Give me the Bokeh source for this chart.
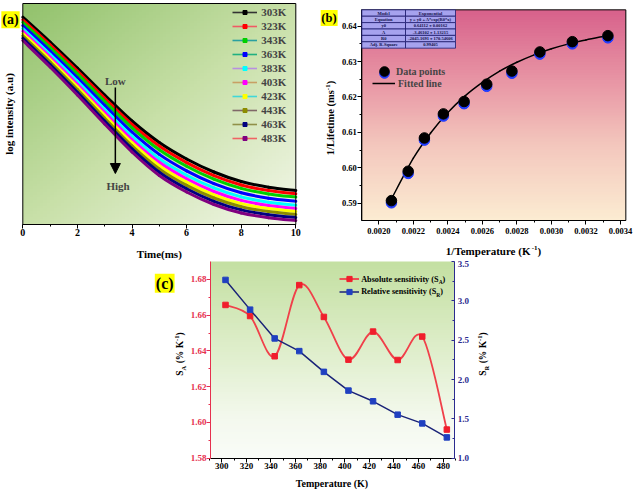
import numpy as np
from bokeh.plotting import figure
from bokeh.models import (Range1d, LinearAxis, Label, BoxAnnotation, Legend, LegendItem,
                          ColumnDataSource, FixedTicker, PrintfTickFormatter, Spacer, Arrow, NormalHead)
from bokeh.layouts import row, column
from bokeh.embed import file_html
from bokeh.resources import INLINE
from bokeh.transform import dodge

FONT = "Liberation Serif"

# ---------------- data: panel (a) ----------------
time_ms = [0, 1, 2, 3, 4, 5, 6, 7, 8, 9, 10]
temp_labels_a = ["303K", "323K", "343K", "363K", "383K", "403K", "423K", "443K", "463K", "483K"]
log_int_303K = [2.073, 1.825, 1.565, 1.295, 1.035, 0.820, 0.655, 0.525, 0.430, 0.373, 0.340]
log_int_323K = [2.047, 1.797, 1.535, 1.263, 1.001, 0.784, 0.619, 0.489, 0.395, 0.339, 0.307]
log_int_343K = [2.022, 1.770, 1.506, 1.231, 0.967, 0.747, 0.582, 0.453, 0.361, 0.306, 0.274]
log_int_363K = [1.989, 1.735, 1.468, 1.191, 0.923, 0.701, 0.536, 0.408, 0.317, 0.263, 0.232]
log_int_383K = [1.959, 1.702, 1.433, 1.153, 0.883, 0.658, 0.493, 0.366, 0.276, 0.223, 0.193]
log_int_403K = [1.933, 1.675, 1.403, 1.121, 0.849, 0.622, 0.457, 0.330, 0.241, 0.190, 0.160]
log_int_423K = [1.910, 1.650, 1.376, 1.092, 0.818, 0.589, 0.424, 0.297, 0.209, 0.159, 0.130]
log_int_443K = [1.887, 1.625, 1.349, 1.063, 0.787, 0.556, 0.391, 0.265, 0.178, 0.129, 0.100]
log_int_463K = [1.863, 1.600, 1.322, 1.034, 0.756, 0.523, 0.358, 0.232, 0.146, 0.098, 0.070]
log_int_483K = [1.840, 1.575, 1.295, 1.005, 0.725, 0.490, 0.325, 0.200, 0.115, 0.068, 0.040]
log_int_series = [log_int_303K, log_int_323K, log_int_343K, log_int_363K, log_int_383K,
                  log_int_403K, log_int_423K, log_int_443K, log_int_463K, log_int_483K]
curve_colors = ["#000000", "#ff0000", "#00d000", "#0000ff", "#00ffff",
                "#ff00ff", "#ffff00", "#8c8c00", "#000080", "#800080"]
legend_line_colors = ["#333333", "#f05a64", "#2aa0a0", "#20b080", "#b890e0",
                      "#c8a064", "#40d8d8", "#806868", "#909048", "#f06464"]

# ---------------- data: panel (b) ----------------
inv_temp = [0.002073, 0.002170, 0.002264, 0.002374, 0.002494, 0.002625, 0.002771, 0.002933, 0.003121, 0.003327]
inv_lifetime = [0.5906, 0.5989, 0.6083, 0.6151, 0.6186, 0.6235, 0.6272, 0.6326, 0.6355, 0.6372]
fit_inv_temp = [0.00207, 0.0022, 0.0023, 0.0024, 0.0025, 0.0026, 0.0027, 0.0028, 0.0029, 0.0030, 0.0031, 0.0032, 0.0033]
fit_inv_lifetime = [0.5909, 0.6027, 0.6098, 0.6156, 0.6203, 0.6241, 0.6273, 0.6298, 0.6319, 0.6336, 0.6350, 0.6361, 0.6371]
fit_table_rows = [("Model", "Exponential"),
                  ("Equation", "y = y0 + A*exp(R0*x)"),
                  ("y0", "0.64112 \u00b1 0.00162"),
                  ("A", "-3.46102 \u00b1 1.13215"),
                  ("R0", "-2045.1691 \u00b1 170.54606"),
                  ("Adj. R-Square", "0.99405")]

# ---------------- data: panel (c) ----------------
temperature_K = [303, 323, 343, 363, 383, 403, 423, 443, 463, 483]
abs_sens = [1.6657, 1.6595, 1.6370, 1.6768, 1.6590, 1.6351, 1.6508, 1.6349, 1.6480, 1.5960]
rel_sens = [3.266, 2.888, 2.522, 2.361, 2.097, 1.859, 1.723, 1.553, 1.442, 1.264]

# ---------------- helpers ----------------
W = {' ': 250, '(': 333, ')': 333, '%': 1000, '-': 333, '/': 278, '.': 250,
     'A': 722, 'K': 778, 'L': 667, 'R': 722, 'S': 556, 'T': 667,
     'a': 500, 'b': 556, 'c': 444, 'd': 556, 'e': 444, 'f': 333, 'g': 500, 'h': 556,
     'i': 278, 'l': 278, 'm': 833, 'n': 556, 'o': 500, 'p': 556, 'r': 444, 's': 389,
     't': 333, 'u': 556, 'v': 500, 'w': 722, 'y': 500}
META = {}


def text_w(s, size):
    return sum(W.get(ch, 500) for ch in s) * size / 1000.0


def scr(p, px, py):
    ox, oy, ch = META[id(p)]
    return px - ox, ch - (py - oy)


def rich(p, pieces, px, py, angle=0.0, anchor="center", color="black"):
    """px, py: page position of the text's visual middle (center or left start)."""
    sx, sy = scr(p, px, py)
    s_main = pieces[0][1]
    total = sum(text_w(t, s) for t, s, _ in pieces)
    pos = -total / 2 if anchor == "center" else 0.0
    for t, s, sh in pieces:
        lead = len(t) - len(t.lstrip(" "))
        pos += text_w(" " * lead, s)
        t2 = t.lstrip(" ")
        d = sh - 0.3375 * (s_main - s)
        if angle == 0:
            lx, ly = sx + pos, sy + d
        else:
            lx, ly = sx - d, sy + pos
        p.add_layout(Label(x=lx, y=ly, x_units="screen", y_units="screen", text=t2, angle=angle,
                           text_font=FONT, text_font_style="bold", text_font_size=f"{s}px",
                           text_align="left", text_baseline="middle", text_color=color))
        pos += text_w(t2, s)


def badge(p, text, px, py, size):
    sx, sy = scr(p, px, py)
    p.add_layout(Label(x=sx, y=sy, x_units="screen", y_units="screen", text=text,
                       text_font=FONT, text_font_style="bold", text_font_size=f"{size}px",
                       text_align="center", text_baseline="middle", text_color="black",
                       background_fill_color="#ffff00", background_fill_alpha=1.0, padding=1))


def gradient_image(stops, diag=False, n=80):
    v = np.linspace(0, 1, n)[:, None]
    u = np.linspace(0, 1, n)[None, :]
    t = (u + (1 - v)) / 2 if diag else (1 - v) + 0 * u
    ts = [s[0] for s in stops]
    img = np.empty((n, n), dtype=np.uint32)
    view = img.view(dtype=np.uint8).reshape((n, n, 4))
    for ch in range(3):
        view[:, :, ch] = np.interp(t, ts, [s[1][ch] for s in stops]).astype(np.uint8)
    view[:, :, 3] = 255
    return img


def smooth(p, xs, ys, **kw):
    x = np.asarray(xs, float)
    y = np.asarray(ys, float)
    n = len(x)
    xp = np.r_[x[0], x, x[-1]]
    yp = np.r_[y[0], y, y[-1]]
    src = ColumnDataSource(dict(
        x0=x[:-1], y0=y[:-1], x1=x[1:], y1=y[1:],
        cx0=xp[1:n] + (xp[2:n + 1] - xp[0:n - 1]) / 6, cy0=yp[1:n] + (yp[2:n + 1] - yp[0:n - 1]) / 6,
        cx1=xp[2:n + 1] - (xp[3:n + 2] - xp[1:n]) / 6, cy1=yp[2:n + 1] - (yp[3:n + 2] - yp[1:n]) / 6))
    return p.bezier(x0="x0", y0="y0", x1="x1", y1="y1", cx0="cx0", cy0="cy0", cx1="cx1", cy1="cy1",
                    source=src, line_cap="round", **kw)


def style_axis(ax, size, color="black", tick_in=0, tick_out=4, standoff=1):
    ax.major_label_text_font = FONT
    ax.major_label_text_font_style = "bold"
    ax.major_label_text_font_size = size
    ax.major_label_text_color = color
    ax.axis_line_color = color
    ax.major_tick_line_color = color
    ax.minor_tick_line_color = color
    ax.major_tick_in = tick_in
    ax.major_tick_out = tick_out
    ax.minor_tick_in = 0 if tick_in == 0 else 2
    ax.minor_tick_out = 0 if tick_out == 0 else 2
    ax.major_label_standoff = standoff


def ext_range(d0, d1, lo_px, hi_px, span_px):
    s = (d1 - d0) / span_px
    return Range1d(d0 - lo_px * s, d1 + hi_px * s)


def make_fig(origin, cw, ch, box, xd, yd):
    L, T, R, B = box
    xr = ext_range(xd[0], xd[1], L, cw - R, R - L)
    yr = ext_range(yd[0], yd[1], ch - B, T, B - T)
    p = figure(width=cw, height=ch, x_range=xr, y_range=yr, output_backend="svg", toolbar_location=None,
               min_border_left=0, min_border_right=0, min_border_top=0, min_border_bottom=0)
    p.xgrid.visible = False
    p.ygrid.visible = False
    p.outline_line_color = None
    p.background_fill_color = "white"
    p.border_fill_color = "white"
    META[id(p)] = (origin[0], origin[1], ch)
    p.xaxis[0].fixed_location = yd[0]
    p.xaxis[0].bounds = xd
    p.yaxis[0].fixed_location = xd[0]
    p.yaxis[0].bounds = yd
    return p


def background(p, stops, xd, yd, diag=False):
    p.image_rgba(image=[gradient_image(stops, diag)], x=xd[0], y=yd[0], dw=xd[1] - xd[0], dh=yd[1] - yd[0])


def frame_box(p, xd, yd):
    p.add_layout(BoxAnnotation(left=xd[0], right=xd[1], bottom=yd[0], top=yd[1], fill_alpha=0,
                               fill_color=None, line_color="black", line_alpha=1.0, line_width=1))


NAN2 = [np.nan, np.nan]
leg_common = dict(orientation="vertical", padding=0, margin=0, border_line_color=None, background_fill_alpha=0,
                  label_text_font=FONT, label_text_font_style="bold")

# ---------------- panel (a) ----------------
XA, YA = (0, 10), (0, 2.21)
pa = make_fig((0, 0), 320, 260, (22.3, 3, 295.3, 224), XA, YA)
background(pa, [(0, (146, 194, 108)), (0.5, (200, 224, 168)), (1, (243, 247, 233))], XA, YA, diag=True)
for ser, col in zip(log_int_series, curve_colors):
    smooth(pa, time_ms, ser, line_color=col, line_width=3)
frame_box(pa, XA, YA)
style_axis(pa.xaxis[0], "10px", standoff=0)
pa.xaxis[0].ticker = FixedTicker(ticks=[0, 2, 4, 6, 8, 10], minor_ticks=[1, 3, 5, 7, 9])
pa.yaxis[0].visible = False

items_a = []
for lab, lc, mc in zip(temp_labels_a, legend_line_colors, curve_colors):
    r1 = pa.line(x=NAN2, y=NAN2, line_color=lc, line_width=1.6)
    r2 = pa.scatter(x=NAN2, y=NAN2, marker="square", fill_color=mc, line_color=mc)
    items_a.append(LegendItem(label=lab, renderers=[r1, r2]))
lx, ly = scr(pa, 232.3, 144)
pa.add_layout(Legend(items=items_a, location=(lx, ly), glyph_width=25, glyph_height=10, label_height=12,
                     label_standoff=4, spacing=2, label_text_font_size="11px", **leg_common))

pa.add_layout(Arrow(end=NormalHead(size=10, fill_color="black", line_color="black"),
                    x_start=3.39, y_start=1.37, x_end=3.39, y_end=0.51, line_width=1.5, line_color="black"))
for txt, xx, yy in [("Low", 3.39, 1.44), ("High", 3.49, 0.39)]:
    pa.add_layout(Label(x=xx, y=yy, text=txt, text_font=FONT, text_font_style="bold", text_font_size="11px",
                        text_align="center", text_baseline="middle"))
rich(pa, [("Time(ms)", 11, 0)], 158.9, 253.3)
rich(pa, [("log intensity (a.u)", 11, 0)], 8.3, 113.5, angle=np.pi / 2)
badge(pa, "(a)", 10, 19.2, 14)

# ---------------- panel (b) ----------------
XB, YB = (0.0019015, 0.0034309), (0.585104, 0.644616)
pb = make_fig((320, 0), 320, 260, (41.33, 9.33, 305.33, 220), XB, YB)
background(pb, [(0, (216, 98, 140)), (0.35, (233, 152, 166)), (0.65, (244, 200, 190)), (1, (252, 236, 210))],
           XB, YB)
frame_box(pb, XB, YB)
style_axis(pb.xaxis[0], "8.5px", standoff=3)
pb.xaxis[0].ticker = FixedTicker(ticks=[0.0020, 0.0022, 0.0024, 0.0026, 0.0028, 0.0030, 0.0032, 0.0034],
                                 minor_ticks=[0.0021, 0.0023, 0.0025, 0.0027, 0.0029, 0.0031, 0.0033])
pb.xaxis[0].formatter = PrintfTickFormatter(format="%.4f")
style_axis(pb.yaxis[0], "8.5px", standoff=1)
pb.yaxis[0].ticker = FixedTicker(ticks=[0.59, 0.60, 0.61, 0.62, 0.63, 0.64],
                                 minor_ticks=[0.595, 0.605, 0.615, 0.625, 0.635])
pb.yaxis[0].formatter = PrintfTickFormatter(format="%.2f")

smooth(pb, fit_inv_temp, fit_inv_lifetime, line_color="black", line_width=1.5)
src_b = ColumnDataSource(dict(x=inv_temp, y=inv_lifetime))
pb.scatter(x="x", y=dodge("y", -0.0005, range=pb.y_range), source=src_b, marker="circle", size=10.5,
           fill_color="#1f3cff", line_color="#1f3cff")
pb.scatter(x="x", y=dodge("y", 0.00012, range=pb.y_range), source=src_b, marker="circle", size=10.5,
           fill_color="black", line_color="black")

rb_blue = pb.scatter(x=NAN2, y=NAN2, marker="circle", fill_color="#1f3cff", line_color="#1f3cff")
rb_black = pb.scatter(x=NAN2, y=NAN2, marker="circle", fill_color="black", line_color="black")
rb_line = pb.line(x=NAN2, y=NAN2, line_color="black", line_width=1.5)
for rend, lab, (px, py), gw, gh, so in [(rb_blue, " ", (372, 85), 24, 24, 0),
                                        (rb_black, "Data points", (372, 83), 24, 24, 0),
                                        (rb_line, "Fitted line", (372, 89.3), 23, 12, 3)]:
    lx, ly = scr(pb, px, py)
    pb.add_layout(Legend(items=[LegendItem(label=lab, renderers=[rend])], location=(lx, ly),
                         glyph_width=gw, glyph_height=gh, label_height=gh, label_standoff=so,
                         label_text_font_size="10px", **leg_common))

# fit-result table
col_edges = [361.33, 405.0, 455.0]
row_top, row_h = 9.33, 6.39
for r, cells in enumerate(fit_table_rows):
    for c, txt in enumerate(cells):
        l, t = scr(pb, col_edges[c], row_top + r * row_h)
        rr, b = scr(pb, col_edges[c + 1], row_top + (r + 1) * row_h)
        pb.add_layout(BoxAnnotation(left=l, right=rr, top=t, bottom=b, left_units="screen",
                                    right_units="screen", top_units="screen", bottom_units="screen",
                                    fill_color="#a6a2ee", fill_alpha=1.0, line_color="#1c1c6e",
                                    line_alpha=1.0, line_width=0.8))
        pb.add_layout(Label(x=(l + rr) / 2, y=(t + b) / 2, x_units="screen", y_units="screen", text=txt,
                            text_font=FONT, text_font_style="bold", text_font_size="4.5px",
                            text_align="center", text_baseline="middle", text_color="#10104a"))

rich(pb, [("1/Temperature (K", 11, 0), ("-1", 7, 4), (")", 11, 0)], 493, 250)
rich(pb, [("1/Lifetime (ms", 10.5, 0), ("-1", 7, 4), (")", 10.5, 0)], 330, 117.5, angle=np.pi / 2)
badge(pb, "(b)", 328.5, 17.5, 12.5)

# ---------------- panel (c) ----------------
RED_T = "#e6304e"
NAVY_T = "#2b2b8f"
XC, YC, YR = (290.8, 489.5), (1.58, 1.69), (1.0, 3.5)
BOXC = (60, 1, 304.33, 197.67)
pc = make_fig((150, 260), 345, 231, BOXC, XC, YC)
pc.extra_y_ranges = {"sr": ext_range(YR[0], YR[1], 231 - BOXC[3], BOXC[1], BOXC[3] - BOXC[1])}
background(pc, [(0, (196, 224, 162)), (0.5, (226, 240, 208)), (0.8, (244, 249, 238)), (1, (250, 252, 248))],
           XC, YC)
style_axis(pc.xaxis[0], "9px", standoff=1)
pc.xaxis[0].ticker = FixedTicker(ticks=list(range(300, 481, 20)), minor_ticks=list(range(290, 491, 20)))
style_axis(pc.yaxis[0], "9px", color=RED_T, standoff=0)
pc.yaxis[0].ticker = FixedTicker(ticks=[1.58, 1.60, 1.62, 1.64, 1.66, 1.68],
                                 minor_ticks=[1.59, 1.61, 1.63, 1.65, 1.67])
pc.yaxis[0].formatter = PrintfTickFormatter(format="%.2f")
ax_r = LinearAxis(y_range_name="sr", fixed_location=XC[1], bounds=YR)
style_axis(ax_r, "9px", color=NAVY_T, tick_in=3, tick_out=0, standoff=3)
ax_r.ticker = FixedTicker(ticks=[1.0, 1.5, 2.0, 2.5, 3.0, 3.5], minor_ticks=[1.25, 1.75, 2.25, 2.75, 3.25])
ax_r.formatter = PrintfTickFormatter(format="%.1f")
pc.add_layout(ax_r, "right")

smooth(pc, temperature_K, abs_sens, line_color="#f0404a", line_width=1.8)
pc.scatter(temperature_K, abs_sens, marker="square", size=5.5, fill_color="#f01e2c", line_color="#f01e2c")
pc.line(temperature_K, rel_sens, y_range_name="sr", line_color="#1a2378", line_width=1.5)
pc.scatter(temperature_K, rel_sens, y_range_name="sr", marker="square", size=5.5,
           fill_color="#2040c0", line_color="#2040c0")

rc1 = pc.line(x=NAN2, y=NAN2, line_color="#f0404a", line_width=1.8)
rc2 = pc.scatter(x=NAN2, y=NAN2, marker="square", fill_color="#f01e2c", line_color="#f01e2c")
rc3 = pc.line(x=NAN2, y=NAN2, line_color="#1a2378", line_width=1.5)
rc4 = pc.scatter(x=NAN2, y=NAN2, marker="square", fill_color="#2040c0", line_color="#2040c0")
for rends, (px, py) in [([rc1, rc2], (339.3, 285.2)), ([rc3, rc4], (339.3, 297.8))]:
    lx, ly = scr(pc, px, py)
    pc.add_layout(Legend(items=[LegendItem(label=" ", renderers=rends)], location=(lx, ly),
                         glyph_width=20, glyph_height=13, label_height=13, label_standoff=0,
                         label_text_font_size="8px", **leg_common))
rich(pc, [("Absolute sensitivity (S", 8.2, 0), ("A", 5.5, -2), (")", 8.2, 0)], 360.7, 278.7, anchor="left")
rich(pc, [("Relative sensitivity (S", 8.2, 0), ("R", 5.5, -2), (")", 8.2, 0)], 360.7, 291.3, anchor="left")

rich(pc, [("Temperature (K)", 10, 0)], 332, 483.3)
rich(pc, [("S", 9.5, 0), ("A", 6.5, -2.5), (" (% K", 9.5, 0), ("-1", 6.5, 4), (")", 9.5, 0)],
     179, 353.5, angle=np.pi / 2)
rich(pc, [("S", 9.5, 0), ("R", 6.5, -2.5), (" (% K", 9.5, 0), ("-1", 6.5, 4), (")", 9.5, 0)],
     482, 353.5, angle=np.pi / 2)
badge(pc, "(c)", 164.2, 282.7, 16)

layout = column(row(pa, pb), row(Spacer(width=150, height=231), pc))
open("out.html", "w").write(file_html(layout, INLINE))
